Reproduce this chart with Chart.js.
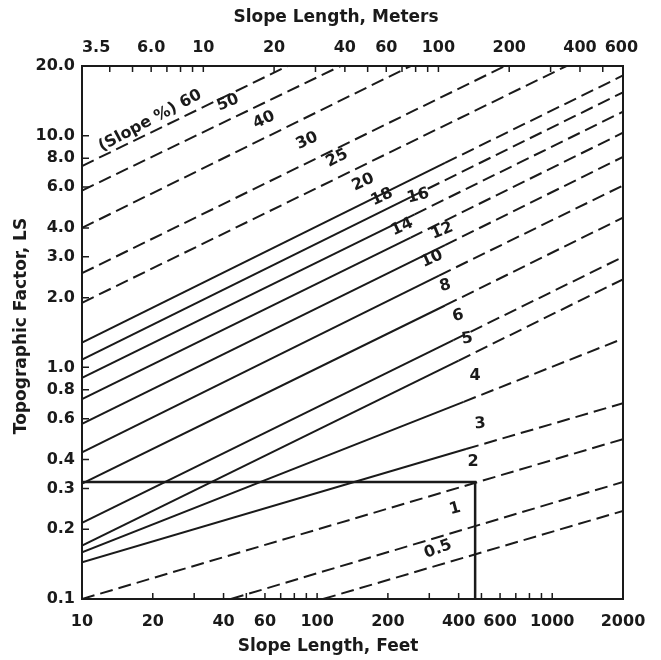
<!DOCTYPE html>
<html>
<head>
<meta charset="utf-8">
<script src="https://cdn.jsdelivr.net/npm/chart.js@4.4.0/dist/chart.umd.min.js"></script>
<style>
  html, body { margin: 0; padding: 0; background: #fff; }
</style>
</head>
<body>
<canvas id="lsChart" width="661" height="660"></canvas>
<script>
// slope % curves, top to bottom
const slopes   = ['60', '50', '40', '30', '25', '20', '18', '16', '14', '12', '10', '8', '6', '5', '4', '3', '2', '1', '0.5'];
const startFt  = [10, 10, 10, 10, 10, 10, 10, 10, 10, 10, 10, 10, 10, 10, 10, 10, 10, 43, 106];
const startLS  = [7.4, 5.8, 4.0, 2.55, 1.9, 1.28, 1.08, 0.9, 0.73, 0.57, 0.43, 0.315, 0.213, 0.17, 0.159, 0.144, 0.1, 0.1, 0.1];
// where the solid part turns dashed (null = dashed all the way)
const breakFt  = [null, null, null, null, null, 350, 250, 260, 250, 350, 330, 350, 380, 400, 420, 430, null, null, null];
const breakLS  = [null, null, null, null, null, 7.63, 5.43, 4.58, 3.63, 3.37, 2.49, 1.85, 1.31, 1.07, 0.71, 0.444, null, null, null];
const endFt    = [75, 126, 250, 630, 1150, 2000, 2000, 2000, 2000, 2000, 2000, 2000, 2000, 2000, 2000, 2000, 2000, 2000, 2000];
const endLS    = [20, 20, 20, 20, 20, 18.2, 15.4, 12.7, 10.3, 8.1, 6.1, 4.43, 3.0, 2.4, 1.33, 0.70, 0.49, 0.32, 0.24];

// worked example: 2 % slope read across at ~470 ft
const exampleFt = [10, 470, 470];
const exampleLS = [0.32, 0.32, 0.1];

const feetTicks       = [10, 20, 40, 60, 100, 200, 400, 600, 1000, 2000];
const feetMinorTicks  = [20, 30, 40, 50, 60, 70, 80, 90, 100, 200, 300, 400, 500, 600, 700, 800, 900, 1000];
const meterTicks      = [3.5, 6, 10, 20, 40, 60, 100, 200, 400, 600];
const meterTickLabels = ['3.5', '6.0', '10', '20', '40', '60', '100', '200', '400', '600'];
const meterMinorTicks = [4, 5, 6, 7, 8, 9, 10, 20, 30, 40, 50, 60, 70, 80, 90, 100, 200, 300, 400, 500];
const lsTicks         = [0.1, 0.2, 0.3, 0.4, 0.6, 0.8, 1, 2, 3, 4, 6, 8, 10, 20];
const lsTickLabels    = ['0.1', '0.2', '0.3', '0.4', '0.6', '0.8', '1.0', '2.0', '3.0', '4.0', '6.0', '8.0', '10.0', '20.0'];

// curve labels: text, anchor (ft, LS), rotation in degrees
const curveLabels = [
  ['(Slope %) 60', 19.5, 11.6, -28], ['50', 41.8, 13.9, -22], ['40', 59.5, 11.7, -25],
  ['30', 90.6, 9.5, -25], ['25', 121.6, 8.0, -27], ['20', 157, 6.3, -25],
  ['18', 189, 5.44, -25], ['16', 269, 5.5, -15], ['14', 230, 4.04, -25],
  ['12', 340, 3.88, -22], ['10', 308, 2.94, -25], ['8', 351, 2.25, -15],
  ['6', 398, 1.67, -12], ['5', 435, 1.33, -10], ['4', 470, 0.918, 0],
  ['3', 494, 0.57, -5], ['2', 461, 0.39, 0], ['1', 386, 0.245, -15], ['0.5', 327, 0.164, -20]
];

const INK = '#1a1a1a';
const FONT = 'DejaVu Sans';
const DASH = [13, 6];
const FEET_TO_M = 0.3048;

const datasets = slopes.map((s, i) => {
  const pts = [{x: startFt[i], y: startLS[i]}];
  if (breakFt[i] !== null) pts.push({x: breakFt[i], y: breakLS[i]});
  pts.push({x: endFt[i], y: endLS[i]});
  const hasSolid = breakFt[i] !== null;
  return {
    label: s + ' %',
    data: pts,
    borderColor: INK,
    borderWidth: 2,
    pointRadius: 0,
    borderDash: hasSolid ? [] : DASH,
    segment: hasSolid ? { borderDash: ctx => ctx.p0DataIndex === 0 ? [] : DASH } : undefined
  };
});
datasets.push({
  label: 'example',
  data: exampleFt.map((x, i) => ({x, y: exampleLS[i]})),
  borderColor: INK,
  borderWidth: 2.5,
  pointRadius: 0
});

const decorations = {
  id: 'decorations',
  afterDatasetsDraw(chart) {
    const {ctx, chartArea: a, scales} = chart;
    ctx.save();
    ctx.strokeStyle = INK;
    ctx.lineWidth = 2;
    ctx.strokeRect(a.left, a.top, a.right - a.left, a.bottom - a.top);

    // inward tick marks
    ctx.lineWidth = 1.5;
    ctx.beginPath();
    feetMinorTicks.forEach(v => {
      const x = scales.x.getPixelForValue(v);
      ctx.moveTo(x, a.bottom); ctx.lineTo(x, a.bottom - 6);
    });
    meterMinorTicks.forEach(v => {
      const x = scales.xm.getPixelForValue(v);
      ctx.moveTo(x, a.top); ctx.lineTo(x, a.top + 6);
    });
    lsTicks.forEach(v => {
      const y = scales.y.getPixelForValue(v);
      ctx.moveTo(a.left, y); ctx.lineTo(a.left + 7, y);
    });
    ctx.stroke();

    // curve labels
    ctx.fillStyle = INK;
    ctx.font = 'bold 16px "' + FONT + '"';
    ctx.textAlign = 'center';
    ctx.textBaseline = 'middle';
    curveLabels.forEach(([t, fx, ly, rot]) => {
      ctx.save();
      ctx.translate(scales.x.getPixelForValue(fx), scales.y.getPixelForValue(ly));
      ctx.rotate(rot * Math.PI / 180);
      ctx.fillText(t, 0, 0);
      ctx.restore();
    });

    // axis titles
    ctx.font = 'bold 17px "' + FONT + '"';
    ctx.fillText('Slope Length, Meters', 336, 18);
    ctx.fillText('Slope Length, Feet', 328, 647);
    ctx.translate(22, 326);
    ctx.rotate(-Math.PI / 2);
    ctx.fillText('Topographic Factor, LS', 0, 0);
    ctx.restore();
  }
};

const tickFont = {family: FONT, size: 16, weight: 'bold'};

new Chart(document.getElementById('lsChart'), {
  type: 'line',
  data: { datasets },
  options: {
    responsive: false,
    animation: false,
    layout: { padding: { right: 38 } },
    plugins: { legend: { display: false }, tooltip: { enabled: false } },
    scales: {
      x: {
        type: 'logarithmic', position: 'bottom', min: 10, max: 2000,
        afterBuildTicks: s => { s.ticks = feetTicks.map(v => ({value: v})); },
        afterFit: s => { s.height = 61; },
        ticks: { autoSkip: false, maxRotation: 0, padding: 13, color: INK, font: tickFont,
                 callback: v => String(v) },
        grid: { display: false, drawTicks: false },
        border: { display: false }
      },
      xm: {
        type: 'logarithmic', position: 'top', min: 10 * FEET_TO_M, max: 2000 * FEET_TO_M,
        afterBuildTicks: s => { s.ticks = meterTicks.map(v => ({value: v})); },
        afterFit: s => { s.height = 66; },
        ticks: { autoSkip: false, maxRotation: 0, padding: 9, color: INK, font: tickFont,
                 callback: (v, i) => meterTickLabels[i] },
        grid: { display: false, drawTicks: false },
        border: { display: false }
      },
      y: {
        type: 'logarithmic', min: 0.1, max: 20,
        afterBuildTicks: s => { s.ticks = lsTicks.map(v => ({value: v})); },
        afterFit: s => { s.width = 82; },
        ticks: { autoSkip: false, padding: 7, color: INK, font: tickFont,
                 callback: (v, i) => lsTickLabels[i] },
        grid: { display: false, drawTicks: false },
        border: { display: false }
      }
    }
  },
  plugins: [decorations]
});
</script>
</body>
</html>
